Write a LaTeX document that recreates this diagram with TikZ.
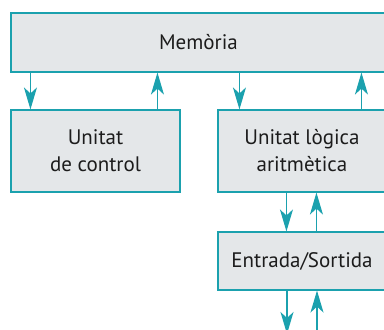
\documentclass[tikz,border=0pt]{standalone}
\usepackage{fontspec}
\setmainfont{PT Sans}
\usetikzlibrary{arrows.meta}
\definecolor{teal1}{HTML}{1BA1AE}
\definecolor{boxfill}{HTML}{E4E7E9}
\definecolor{txt}{HTML}{1C1C1C}
\begin{document}
\begin{tikzpicture}[x=1pt,y=-1pt,
  blk/.style={draw=teal1,line width=1.1pt,fill=boxfill,inner sep=0pt,text=txt,
    font=\fontsize{21}{27}\selectfont,align=center},
  arr/.style={draw=teal1,line width=1.4pt,-{Stealth[length=22pt,width=13pt,inset=6pt]}}]
\useasboundingbox (0,0) rectangle (384,330);
\clip (0,0) rectangle (384,330);
\node[blk,minimum width=375pt,minimum height=59pt] (mem) at (198.5,42.5) {Memòria};
\node[blk,minimum width=169pt,minimum height=82pt] (ctl) at (95.5,151) {Unitat\\de control};
\node[blk,minimum width=168pt,minimum height=82pt] (alu) at (302,151) {Unitat lògica\\aritmètica};
\node[blk,minimum width=168pt,minimum height=58pt] (es) at (302,261) {Entrada/Sortida};
\coordinate (b1) at (287,331);
\coordinate (b2) at (317,331);
\draw[arr] ([xshift=20pt]mem.south west) -- ([xshift=20pt]ctl.north west);
\draw[arr] ([xshift=147pt]ctl.north west) -- ([xshift=147pt]ctl.north west |- mem.south);
\draw[arr] ([xshift=22pt]alu.north west |- mem.south) -- ([xshift=22pt]alu.north west);
\draw[arr] ([xshift=144pt]alu.north west) -- ([xshift=144pt]alu.north west |- mem.south);
\draw[arr] ([xshift=69pt]alu.south west) -- ([xshift=69pt]es.north west);
\draw[arr] ([xshift=99pt]es.north west) -- ([xshift=99pt]alu.south west);
\draw[arr] (b1 |- es.south) -- ([yshift=-3pt]b1);
\draw[arr] (b2) -- (b2 |- es.south);
\end{tikzpicture}
\end{document}
